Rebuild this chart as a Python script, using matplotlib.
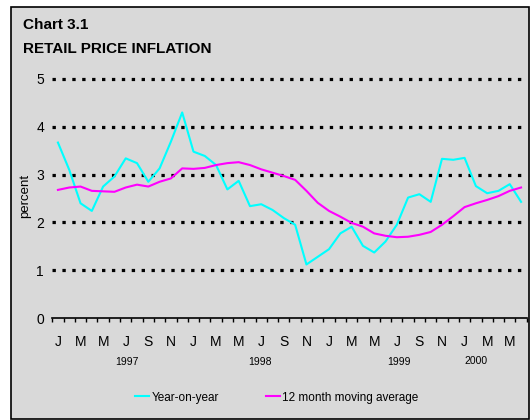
import matplotlib
matplotlib.use("Agg")
import matplotlib.pyplot as plt
from matplotlib.patches import Rectangle
from matplotlib.lines import Line2D

# Monthly data, Jan 1997 - Jun 2000
year_on_year = [3.67, 3.10, 2.40, 2.24, 2.75, 2.96, 3.34, 3.24, 2.85, 3.13, 3.69, 4.30,
                3.48, 3.39, 3.20, 2.69, 2.87, 2.34, 2.38, 2.26, 2.09, 1.95, 1.12, 1.28,
                1.44, 1.77, 1.91, 1.51, 1.37, 1.60, 1.95, 2.52, 2.59, 2.43, 3.33, 3.31,
                3.35, 2.76, 2.61, 2.66, 2.80, 2.43]
moving_avg = [2.68, 2.73, 2.75, 2.66, 2.65, 2.64, 2.73, 2.79, 2.75, 2.85, 2.92, 3.13,
              3.12, 3.14, 3.20, 3.24, 3.26, 3.20, 3.11, 3.04, 2.97, 2.89, 2.66, 2.41,
              2.24, 2.12, 1.99, 1.91, 1.77, 1.72, 1.69, 1.70, 1.74, 1.80, 1.95, 2.13,
              2.32, 2.40, 2.47, 2.55, 2.66, 2.73]
month_labels = ['J', 'M', 'M', 'J', 'S', 'N'] * 3 + ['J', 'M', 'M']
years = ['1997', '1998', '1999', '2000']
year_pos = [6.1, 17.9, 30.2, 37.0]
y_ticks = [0, 1, 2, 3, 4, 5]

plt.rcParams['font.family'] = ['Liberation Sans', 'DejaVu Sans']

W, H = 531, 420
fig = plt.figure(figsize=(W / 100, H / 100), dpi=100)
fig.patch.set_facecolor('white')

# grey panel with black border
fig.patches.append(Rectangle((11 / W, 1 - 419 / H), (529 - 11) / W, (419 - 7) / H,
                             transform=fig.transFigure, facecolor='#d9d9d9',
                             edgecolor='black', linewidth=1.2, zorder=-5))

ax = fig.add_axes([52.3 / W, 1 - 318 / H, 474.4 / W, (318 - 79) / H])
ax.set_facecolor('none')
ax.set_zorder(2)

n = len(year_on_year)
x = list(range(n))
ax.set_xlim(-0.5, n - 0.5)
ax.set_ylim(0, 5)

for v in y_ticks[1:]:
    ax.axhline(v, color='black', linewidth=2.3, dashes=(1.05, 2.05),
               dash_capstyle='butt', zorder=1, clip_on=False)

ax.plot(x, year_on_year, color='#00ffff', linewidth=1.5, zorder=3)
ax.plot(x, moving_avg, color='#ff00ff', linewidth=1.5, zorder=3)

for s in ['left', 'right', 'top']:
    ax.spines[s].set_visible(False)
ax.spines['bottom'].set_linewidth(1.2)

ax.set_yticks(y_ticks)
ax.tick_params(axis='y', length=0, pad=6, labelsize=10)
ax.set_xticks(x[::2])
ax.set_xticklabels(month_labels)
ax.set_xticks([i - 0.5 for i in range(n + 1)], minor=True)
ax.tick_params(axis='x', which='major', length=0, pad=12, labelsize=10)
ax.tick_params(axis='x', which='minor', length=3, width=1, direction='out')

for yr, p in zip(years, year_pos):
    ax.text(p, -0.93 if yr != '2000' else -0.91, yr, ha='center', va='center',
            fontsize=7.5, transform=ax.transData, clip_on=False)

fig.text(25 / W, 1 - 196 / H, 'percent', rotation=90, ha='center', va='center', fontsize=9.5)
fig.text(22.7 / W, 1 - 29 / H, 'Chart 3.1', fontsize=11, fontweight='bold', va='baseline')
fig.text(22.7 / W, 1 - 53 / H, 'RETAIL PRICE INFLATION', fontsize=11, fontweight='bold',
         va='baseline')

handles = [Line2D([], [], color='#00ffff', linewidth=1.5),
           Line2D([], [], color='#ff00ff', linewidth=1.5)]
fig.legend(handles, ['Year-on-year', '12 month moving average'], loc='center',
           bbox_to_anchor=(276.8 / W, 1 - 397.5 / H), ncol=2, frameon=False,
           fontsize=8.5, handlelength=1.15, handletextpad=0.2, columnspacing=4.0)

fig.savefig('out.png', dpi=100)
